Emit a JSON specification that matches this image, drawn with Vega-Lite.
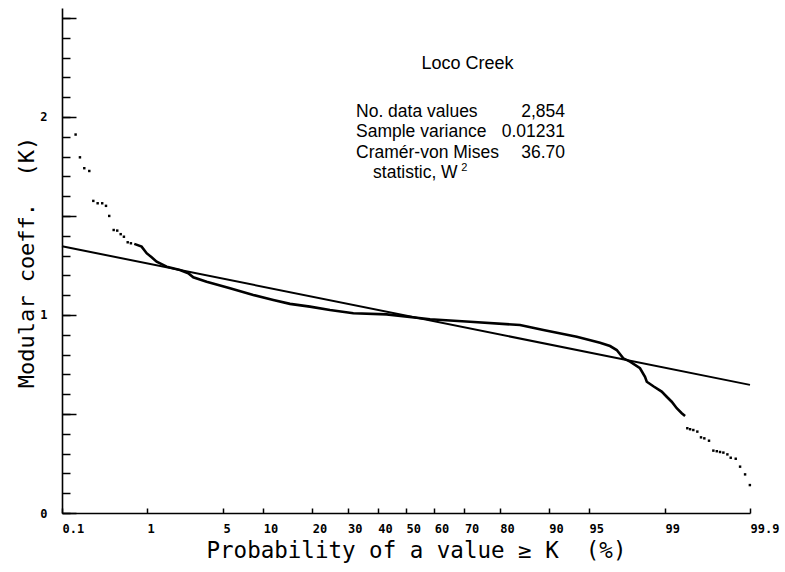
{
  "$schema": "https://vega.github.io/schema/vega-lite/v6.json",
  "width": 688,
  "height": 505,
  "autosize": "none",
  "padding": {"left": 62, "top": 8, "right": 35, "bottom": 59},
  "background": "white",
  "config": {"view": {"stroke": null}, "axis": {"grid": false}},
  "datasets": {
    "fit": [{"z": -3.0902, "k": 1.347}, {"z": 3.0902, "k": 0.647}],
    "curve": [
      {"z": -2.441, "k": 1.359}, {"z": -2.375, "k": 1.345}, {"z": -2.330, "k": 1.312}, {"z": -2.285, "k": 1.291},
      {"z": -2.240, "k": 1.269}, {"z": -2.150, "k": 1.244}, {"z": -2.031, "k": 1.227}, {"z": -1.956, "k": 1.211},
      {"z": -1.911, "k": 1.190}, {"z": -1.791, "k": 1.168}, {"z": -1.581, "k": 1.135}, {"z": -1.372, "k": 1.101},
      {"z": -1.192, "k": 1.076}, {"z": -1.042, "k": 1.056}, {"z": -0.863, "k": 1.042}, {"z": -0.683, "k": 1.025},
      {"z": -0.473, "k": 1.009}, {"z": -0.174, "k": 1.003}, {"z": 0.216, "k": 0.978}, {"z": 0.575, "k": 0.966},
      {"z": 1.024, "k": 0.949}, {"z": 1.234, "k": 0.924}, {"z": 1.534, "k": 0.890}, {"z": 1.743, "k": 0.860},
      {"z": 1.833, "k": 0.843}, {"z": 1.893, "k": 0.823}, {"z": 1.952, "k": 0.781}, {"z": 2.013, "k": 0.764},
      {"z": 2.102, "k": 0.731}, {"z": 2.147, "k": 0.688}, {"z": 2.163, "k": 0.663}, {"z": 2.222, "k": 0.640},
      {"z": 2.297, "k": 0.613}, {"z": 2.342, "k": 0.587}, {"z": 2.387, "k": 0.562}, {"z": 2.432, "k": 0.529},
      {"z": 2.477, "k": 0.504}, {"z": 2.507, "k": 0.490}
    ],
    "tails": [
      {"z": -2.968, "k": 1.911}, {"z": -2.929, "k": 1.796}, {"z": -2.890, "k": 1.741}, {"z": -2.845, "k": 1.727},
      {"z": -2.809, "k": 1.576}, {"z": -2.770, "k": 1.564}, {"z": -2.729, "k": 1.564}, {"z": -2.695, "k": 1.551},
      {"z": -2.666, "k": 1.500}, {"z": -2.626, "k": 1.429}, {"z": -2.594, "k": 1.426}, {"z": -2.563, "k": 1.408},
      {"z": -2.534, "k": 1.395}, {"z": -2.500, "k": 1.367}, {"z": -2.471, "k": 1.362},
      {"z": 2.527, "k": 0.428}, {"z": 2.552, "k": 0.423}, {"z": 2.581, "k": 0.419}, {"z": 2.617, "k": 0.411},
      {"z": 2.650, "k": 0.382}, {"z": 2.680, "k": 0.377}, {"z": 2.722, "k": 0.365}, {"z": 2.761, "k": 0.315},
      {"z": 2.792, "k": 0.312}, {"z": 2.821, "k": 0.308}, {"z": 2.851, "k": 0.305}, {"z": 2.887, "k": 0.296},
      {"z": 2.917, "k": 0.279}, {"z": 2.962, "k": 0.274}, {"z": 3.001, "k": 0.234}, {"z": 3.046, "k": 0.195},
      {"z": 3.089, "k": 0.141}
    ],
    "title": [{"label": "Loco Creek", "z": 0.552, "k": 2.240}],
    "notesLeft": [
      {"label": "No. data values", "z": -0.449, "k": 2.0},
      {"label": "Sample variance", "z": -0.449, "k": 1.897},
      {"label": "Cramér-von Mises", "z": -0.449, "k": 1.794},
      {"label": "statistic, W", "z": -0.296, "k": 1.692}
    ],
    "notesRight": [
      {"label": "2,854", "z": 1.428, "k": 2.0},
      {"label": "0.01231", "z": 1.428, "k": 1.897},
      {"label": "36.70", "z": 1.428, "k": 1.794}
    ],
    "superscript": [{"label": "2", "z": 0.497, "k": 1.727}]
  },
  "encoding": {
    "x": {
      "field": "z",
      "type": "quantitative",
      "scale": {"domain": [-3.0902, 3.0902], "nice": false, "zero": false},
      "axis": {
        "values": [-3.0902, -2.3263, -1.6449, -1.2816, -0.8416, -0.5244, -0.2533, 0, 0.2533, 0.5244, 0.8416, 1.2816, 1.6449, 2.3263, 3.0902],
        "labelExpr": "datum.value < -3 ? '0.1' : datum.value < -2 ? '1' : datum.value < -1.5 ? '5' : datum.value < -1 ? '10' : datum.value < -0.7 ? '20' : datum.value < -0.4 ? '30' : datum.value < -0.1 ? '40' : datum.value < 0.1 ? '50' : datum.value < 0.4 ? '60' : datum.value < 0.7 ? '70' : datum.value < 1 ? '80' : datum.value < 1.5 ? '90' : datum.value < 2 ? '95' : datum.value < 3 ? '99' : '99.9'",
        "labelFont": "DejaVu Sans Mono",
        "labelFontWeight": "bold",
        "labelFontSize": 12,
        "labelColor": "black",
        "labelAlign": "left",
        "labelDx": -2,
        "labelBaseline": "top",
        "labelPadding": 15,
        "labelFlush": false,
        "labelOverlap": false,
        "labelBound": false,
        "tickSize": -5,
        "tickColor": "black",
        "tickWidth": 1.5,
        "domainColor": "black",
        "domainWidth": 1.6,
        "grid": false,
        "title": "Probability of a value ≥ K\u00a0\u00a0(%)",
        "titleFont": "DejaVu Sans Mono",
        "titleFontSize": 22.5,
        "titleFontWeight": "normal",
        "titleColor": "black",
        "titleX": 354,
        "titleY": 44.5,
        "titleAlign": "center",
        "titleBaseline": "alphabetic"
      }
    }
  },
  "layer": [
    {
      "encoding": {
        "y": {
          "field": "k",
          "type": "quantitative",
          "scale": {"domain": [0, 2.55], "nice": false, "zero": true},
          "axis": {
            "orient": "left",
            "values": [0, 0.1, 0.2, 0.3, 0.4, 0.5, 0.6, 0.7, 0.8, 0.9, 1, 1.1, 1.2, 1.3, 1.4, 1.5, 1.6, 1.7, 1.8, 1.9, 2, 2.1, 2.2, 2.3, 2.4, 2.5],
            "labelExpr": "datum.value == 0 ? '0' : datum.value == 1 ? '1' : datum.value == 2 ? '2' : ''",
            "labelFont": "DejaVu Sans Mono",
            "labelFontWeight": "bold",
            "labelFontSize": 12,
            "labelColor": "black",
            "labelAlign": "right",
            "labelBaseline": "middle",
            "labelPadding": 23,
            "labelFlush": false,
            "labelOverlap": false,
            "labelBound": false,
            "tickSize": -8,
            "tickColor": "black",
            "tickWidth": 1.5,
            "domainColor": "black",
            "domainWidth": 1.6,
            "grid": false,
            "title": "Modular coeff.\u00a0\u00a0(K)",
            "titleFont": "DejaVu Sans Mono",
            "titleFontSize": 22,
            "titleFontWeight": "normal",
            "titleColor": "black",
            "titleAngle": -90,
            "titleX": -29,
            "titleY": 254,
            "titleAlign": "center",
            "titleBaseline": "alphabetic"
          }
        }
      },
      "layer": [
        {"data": {"name": "curve"}, "mark": {"type": "line", "color": "black", "strokeWidth": 2.6}},
        {"data": {"name": "tails"}, "mark": {"type": "square", "color": "black", "size": 6, "opacity": 1, "filled": true}},
        {
          "data": {"name": "title"},
          "mark": {"type": "text", "font": "Liberation Sans", "fontSize": 18, "align": "center", "baseline": "alphabetic", "color": "black"},
          "encoding": {"text": {"field": "label", "type": "nominal"}}
        },
        {
          "data": {"name": "notesLeft"},
          "mark": {"type": "text", "font": "Liberation Sans", "fontSize": 17.5, "align": "left", "baseline": "alphabetic", "color": "black"},
          "encoding": {"text": {"field": "label", "type": "nominal"}}
        },
        {
          "data": {"name": "notesRight"},
          "mark": {"type": "text", "font": "Liberation Sans", "fontSize": 17.5, "align": "right", "baseline": "alphabetic", "color": "black"},
          "encoding": {"text": {"field": "label", "type": "nominal"}}
        },
        {
          "data": {"name": "superscript"},
          "mark": {"type": "text", "font": "Liberation Sans", "fontSize": 11, "align": "left", "baseline": "alphabetic", "color": "black"},
          "encoding": {"text": {"field": "label", "type": "nominal"}}
        }
      ]
    },
    {
      "data": {"name": "fit"},
      "mark": {"type": "line", "color": "black", "strokeWidth": 2},
      "encoding": {
        "y": {
          "field": "k",
          "type": "quantitative",
          "scale": {"domain": [0, 2.55], "nice": false, "zero": true},
          "axis": {
            "orient": "left",
            "values": [0, 0.5, 1, 1.5, 2, 2.5],
            "labels": false,
            "domain": false,
            "grid": false,
            "title": null,
            "tickSize": -14,
            "tickColor": "black",
            "tickWidth": 1.5
          }
        }
      }
    }
  ],
  "resolve": {"axis": {"y": "independent"}}
}
